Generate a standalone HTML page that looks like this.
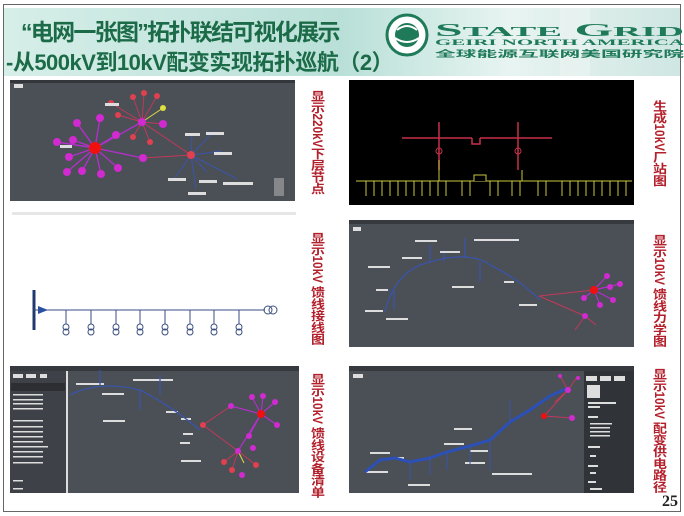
<!DOCTYPE html>
<html><head><meta charset="utf-8"><style>
html,body{margin:0;width:684px;height:516px;overflow:hidden}
body{background:#fff;font-family:"Liberation Sans","Noto Sans CJK SC",sans-serif;position:relative}
.v{position:absolute;height:160px;writing-mode:vertical-rl;text-orientation:mixed;color:#b3202c;font-weight:bold;font-size:14px;line-height:15px;transform:scaleY(0.84);transform-origin:top left;white-space:nowrap;font-family:"Liberation Sans","Noto Sans CJK SC",sans-serif}
.t{position:absolute;color:#1c6b48;font-weight:bold;white-space:nowrap;font-family:"Liberation Sans","Noto Sans CJK SC",sans-serif}
</style></head><body>
<svg width="684" height="516" style="position:absolute;left:0;top:0">
<defs>
<linearGradient id="hg" x1="0" x2="1" y1="0" y2="0">
<stop offset="0" stop-color="#d6eee8"/><stop offset="0.5" stop-color="#b9e0d8"/><stop offset="0.75" stop-color="#e8f4f1"/><stop offset="1" stop-color="#cfe6e2"/></linearGradient>
</defs>
<rect x="3.5" y="4.5" width="677" height="507" fill="#fff" stroke="#666" stroke-width="1"/>
<rect x="4" y="8" width="676" height="68" fill="url(#hg)"/>
<rect x="560" y="8" width="30" height="68" fill="#e9f3f1" opacity="0.7"/>
<circle cx="407" cy="35" r="20" fill="#fff" stroke="#1e7a58" stroke-width="3"/>
<circle cx="407" cy="35" r="12" fill="#1e7a58"/>
<path d="M397 30 Q407 22 417 30 M395 38 Q407 46 419 38" stroke="#fff" stroke-width="2" fill="none"/>
<text x="435" y="36" font-family="Liberation Serif" font-weight="bold" font-size="18" fill="#1e7a58" textLength="249" lengthAdjust="spacingAndGlyphs">S<tspan font-size="14">TATE</tspan> G<tspan font-size="14">RID</tspan></text>
<text x="435" y="45" font-family="Liberation Serif" font-weight="bold" font-size="8" fill="#1e7a58" textLength="249" lengthAdjust="spacingAndGlyphs">GEIRI NORTH AMERICA</text>
<text x="435" y="57" font-family="Liberation Sans,Noto Sans CJK SC,sans-serif" font-weight="bold" font-size="9" fill="#1e7a58" textLength="249" lengthAdjust="spacingAndGlyphs">全球能源互联网美国研究院</text>

<rect x="10" y="80" width="285" height="121" fill="#4b4f56"/>
<rect x="10" y="80" width="285" height="3" fill="#33363b"/>
<rect x="14" y="84" width="9" height="4" fill="#ddd"/>
<g stroke="#c0395a" stroke-width="1">
<line x1="142" y1="122" x2="111" y2="103"/><line x1="142" y1="122" x2="133" y2="97"/><line x1="142" y1="122" x2="144" y2="93"/><line x1="142" y1="122" x2="157" y2="96"/><line x1="142" y1="122" x2="118" y2="115"/><line x1="142" y1="122" x2="191" y2="155"/><line x1="142" y1="122" x2="133" y2="137"/><line x1="142" y1="122" x2="150" y2="142"/><line x1="191" y1="155" x2="143" y2="158"/><line x1="142" y1="122" x2="163" y2="124"/>
</g>
<line x1="142" y1="122" x2="163" y2="108" stroke="#dede40"/>
<g stroke="#b030c8" stroke-width="1.4">
<line x1="95" y1="148" x2="77" y2="123"/><line x1="95" y1="148" x2="100" y2="118"/><line x1="95" y1="148" x2="142" y2="122"/><line x1="95" y1="148" x2="73" y2="140"/><line x1="95" y1="148" x2="57" y2="142"/><line x1="95" y1="148" x2="69" y2="157"/><line x1="95" y1="148" x2="67" y2="172"/><line x1="95" y1="148" x2="82" y2="171"/><line x1="95" y1="148" x2="101" y2="174"/><line x1="95" y1="148" x2="118" y2="168"/><line x1="95" y1="148" x2="143" y2="158"/><line x1="95" y1="148" x2="116" y2="135"/>
</g>
<g stroke="#3a55a8" stroke-width="1">
<line x1="191" y1="155" x2="192" y2="134"/><line x1="191" y1="155" x2="214" y2="131"/><line x1="191" y1="155" x2="222" y2="151"/><line x1="191" y1="155" x2="207" y2="172"/><line x1="191" y1="155" x2="237" y2="179"/><line x1="191" y1="155" x2="196" y2="189"/><line x1="191" y1="155" x2="175" y2="178"/>
</g>
<g fill="#d02ad0"><circle cx="77" cy="123" r="4"/><circle cx="100" cy="118" r="4"/><circle cx="73" cy="140" r="4"/><circle cx="57" cy="142" r="4"/><circle cx="69" cy="157" r="4"/><circle cx="67" cy="172" r="4"/><circle cx="82" cy="171" r="4"/><circle cx="101" cy="174" r="4"/><circle cx="118" cy="168" r="4"/><circle cx="143" cy="158" r="4"/><circle cx="116" cy="135" r="4"/><circle cx="142" cy="122" r="4"/><circle cx="163" cy="124" r="4"/></g>
<g fill="#e04050"><circle cx="111" cy="103" r="3"/><circle cx="133" cy="97" r="3"/><circle cx="144" cy="93" r="3"/><circle cx="157" cy="96" r="3"/><circle cx="118" cy="115" r="3"/><circle cx="133" cy="137" r="3"/><circle cx="150" cy="142" r="3"/><circle cx="191" cy="155" r="4"/></g>
<circle cx="95" cy="148" r="6" fill="#f01010"/><circle cx="163" cy="108" r="3" fill="#dede40"/>
<g fill="#ddd"><rect x="105" y="103" width="14" height="3"/><rect x="60" y="145" width="12" height="3"/><rect x="185" y="133" width="15" height="3"/><rect x="206" y="132" width="18" height="3"/><rect x="214" y="152" width="18" height="3"/><rect x="168" y="178" width="18" height="3"/><rect x="199" y="180" width="18" height="3"/><rect x="223" y="182" width="30" height="3"/><rect x="188" y="192" width="18" height="3"/><rect x="274" y="178" width="10" height="18" opacity="0.4"/></g>

<rect x="12" y="212" width="284" height="3" fill="#e6e6e6"/>
<line x1="34" y1="290" x2="34" y2="330" stroke="#203a70" stroke-width="3"/>
<line x1="34" y1="310" x2="265" y2="310" stroke="#3a4e80" stroke-width="1"/>
<path d="M38 306 L48 310 L38 314 Z" fill="#2a4ea0"/>
<circle cx="268" cy="310" r="4" fill="none" stroke="#3a4e80"/><circle cx="273" cy="310" r="4" fill="none" stroke="#3a4e80"/>
<g stroke="#3a4e80" fill="none">
<path d="M66 310V324M91 310V324M116 310V324M140 310V324M165 310V324M190 310V324M214 310V324M239 310V324"/>
<circle cx="66" cy="327" r="3"/><circle cx="66" cy="332" r="3"/><circle cx="91" cy="327" r="3"/><circle cx="91" cy="332" r="3"/><circle cx="116" cy="327" r="3"/><circle cx="116" cy="332" r="3"/><circle cx="140" cy="327" r="3"/><circle cx="140" cy="332" r="3"/><circle cx="165" cy="327" r="3"/><circle cx="165" cy="332" r="3"/><circle cx="190" cy="327" r="3"/><circle cx="190" cy="332" r="3"/><circle cx="214" cy="327" r="3"/><circle cx="214" cy="332" r="3"/><circle cx="239" cy="327" r="3"/><circle cx="239" cy="332" r="3"/>
</g>

<rect x="349" y="80" width="285" height="125" fill="#000"/>
<g stroke="#c8304a" stroke-width="1.5"><line x1="402" y1="138" x2="472" y2="138"/><line x1="480" y1="138" x2="552" y2="138"/><line x1="439" y1="122" x2="439" y2="170"/><line x1="518" y1="122" x2="518" y2="170"/><path d="M472 138V144H480V138"/></g>
<circle cx="439" cy="151" r="3" fill="none" stroke="#c8304a"/><circle cx="518" cy="151" r="3" fill="none" stroke="#c8304a"/>
<g stroke="#c8c840" stroke-width="1"><line x1="356" y1="181" x2="632" y2="181"/><line x1="439" y1="160" x2="439" y2="181"/><line x1="522" y1="170" x2="522" y2="181"/><path d="M474 181V175H486V181"/>
<path d="M366 181v15M374 181v15M382 181v15M390 181v15M398 181v15M406 181v15M414 181v15M422 181v15M430 181v15M438 181v15M446 181v15M462 181v15M470 181v15M490 181v15M498 181v15M512 181v15M520 181v15M538 181v15M546 181v15M562 181v15M570 181v15M578 181v15M586 181v15M594 181v15M602 181v15M610 181v15M618 181v15M626 181v15"/></g>

<rect x="349" y="220" width="285" height="127" fill="#4b4f56"/>
<rect x="349" y="220" width="285" height="4" fill="#36393e"/>
<rect x="353" y="227" width="8" height="4" fill="#ddd"/>
<g stroke="#3a55a8" stroke-width="1.3" fill="none"><path d="M385 312 Q395 270 430 262 Q470 250 492 266 Q520 280 540 300"/><path d="M430 262V245M444 262V250M465 258V238M480 262V282M394 290V310M378 290H390"/></g>
<g stroke="#c0395a"><line x1="539" y1="296" x2="594" y2="290"/><line x1="539" y1="296" x2="585" y2="316"/><line x1="585" y1="316" x2="575" y2="330"/><line x1="585" y1="316" x2="596" y2="325"/></g>
<g stroke="#b030c8" stroke-width="1.2"><line x1="594" y1="290" x2="607" y2="276"/><line x1="594" y1="290" x2="620" y2="284"/><line x1="594" y1="290" x2="600" y2="305"/><line x1="594" y1="290" x2="584" y2="298"/><line x1="594" y1="290" x2="613" y2="300"/></g>
<g fill="#d02ad0"><circle cx="607" cy="276" r="3"/><circle cx="620" cy="284" r="3"/><circle cx="600" cy="305" r="3"/><circle cx="584" cy="298" r="3"/><circle cx="613" cy="300" r="3"/><circle cx="585" cy="316" r="3"/><circle cx="610" cy="287" r="3"/></g>
<circle cx="594" cy="290" r="4" fill="#f01010"/>
<g fill="#ddd"><rect x="415" y="240" width="22" height="2"/><rect x="474" y="239" width="45" height="2"/><rect x="440" y="251" width="20" height="2"/><rect x="402" y="257" width="20" height="2"/><rect x="368" y="266" width="22" height="2"/><rect x="376" y="289" width="12" height="2"/><rect x="452" y="286" width="22" height="2"/><rect x="504" y="281" width="10" height="2"/><rect x="519" y="304" width="18" height="2"/><rect x="365" y="310" width="18" height="2"/><rect x="386" y="318" width="22" height="2"/></g>

<rect x="10" y="366" width="289" height="127" fill="#4b4f56"/>
<rect x="10" y="366" width="289" height="5" fill="#36393e"/>
<rect x="10" y="371" width="56" height="122" fill="#3e4147"/>
<rect x="66" y="371" width="2" height="122" fill="#ddd"/>
<rect x="11" y="383" width="54" height="8" fill="#2c2e32"/>
<g fill="#ddd"><rect x="13" y="374" width="10" height="4"/><rect x="26" y="374" width="10" height="4"/><rect x="40" y="374" width="7" height="4"/>
<rect x="13" y="394" width="30" height="1.5"/><rect x="13" y="399" width="30" height="1.5"/><rect x="13" y="403" width="30" height="1.5"/><rect x="13" y="408" width="30" height="1.5"/><rect x="13" y="420" width="30" height="1.5"/><rect x="13" y="426" width="30" height="1.5"/><rect x="13" y="431" width="30" height="1.5"/><rect x="13" y="436" width="30" height="1.5"/><rect x="13" y="441" width="30" height="1.5"/><rect x="13" y="446" width="35" height="1.5"/><rect x="13" y="451" width="30" height="1.5"/><rect x="13" y="456" width="30" height="1.5"/><rect x="13" y="462" width="30" height="1.5"/><rect x="13" y="480" width="10" height="1.5"/><rect x="13" y="488" width="10" height="1.5"/>
<rect x="76" y="383" width="28" height="2"/><rect x="133" y="379" width="40" height="2"/><rect x="102" y="393" width="22" height="2"/><rect x="166" y="411" width="12" height="2"/><rect x="103" y="420" width="22" height="2"/><rect x="181" y="418" width="10" height="2"/><rect x="183" y="433" width="10" height="2"/><rect x="180" y="442" width="10" height="2"/><rect x="181" y="460" width="20" height="2"/></g>
<g stroke="#3a55a8" stroke-width="1.3" fill="none"><path d="M70 395 Q100 380 140 390 Q170 405 200 430"/><path d="M100 385V370M160 395V375M140 390V410"/></g>
<g stroke="#c0395a"><line x1="203" y1="425" x2="231" y2="406"/><line x1="203" y1="425" x2="238" y2="451"/><line x1="238" y1="451" x2="224" y2="462"/><line x1="238" y1="451" x2="232" y2="470"/><line x1="238" y1="451" x2="256" y2="465"/></g>
<line x1="238" y1="451" x2="244" y2="463" stroke="#dede40"/>
<g stroke="#b030c8" stroke-width="1.2"><line x1="261" y1="414" x2="231" y2="406"/><line x1="261" y1="414" x2="252" y2="397"/><line x1="261" y1="414" x2="263" y2="396"/><line x1="261" y1="414" x2="275" y2="402"/><line x1="261" y1="414" x2="277" y2="425"/><line x1="261" y1="414" x2="238" y2="451"/><line x1="261" y1="414" x2="249" y2="436"/></g>
<g fill="#d02ad0"><circle cx="231" cy="406" r="3"/><circle cx="252" cy="397" r="3"/><circle cx="263" cy="396" r="3"/><circle cx="275" cy="402" r="3"/><circle cx="277" cy="425" r="3"/><circle cx="249" cy="436" r="3"/><circle cx="238" cy="451" r="3"/><circle cx="253" cy="448" r="3"/><circle cx="242" cy="475" r="3"/></g>
<circle cx="261" cy="414" r="4" fill="#f01010"/>
<g fill="#e04050"><circle cx="224" cy="462" r="3"/><circle cx="232" cy="470" r="3"/><circle cx="256" cy="465" r="3"/><circle cx="203" cy="425" r="3"/></g>

<rect x="349" y="366" width="285" height="127" fill="#4b4f56"/>
<rect x="349" y="366" width="285" height="5" fill="#36393e"/>
<rect x="353" y="374" width="10" height="4" fill="#ddd"/>
<rect x="584" y="371" width="50" height="122" fill="#303338"/>
<g fill="#ddd"><rect x="586" y="376" width="11" height="5"/><rect x="600" y="376" width="11" height="5"/><rect x="614" y="376" width="11" height="5"/><rect x="587" y="385" width="13" height="13"/>
<rect x="588" y="402" width="28" height="2"/><rect x="588" y="406" width="12" height="2"/><rect x="588" y="416" width="10" height="2"/><rect x="590" y="423" width="22" height="1.5"/><rect x="590" y="427" width="20" height="1.5"/><rect x="590" y="431" width="20" height="1.5"/><rect x="590" y="435" width="20" height="1.5"/><rect x="588" y="446" width="12" height="2"/><rect x="590" y="455" width="6" height="2"/><rect x="588" y="465" width="10" height="2"/><rect x="590" y="472" width="6" height="2"/><rect x="588" y="481" width="8" height="2"/><rect x="590" y="488" width="12" height="2"/>
<rect x="366" y="471" width="22" height="2"/><rect x="370" y="452" width="20" height="2"/><rect x="392" y="457" width="12" height="2"/><rect x="444" y="443" width="20" height="2"/><rect x="454" y="428" width="18" height="2"/><rect x="465" y="462" width="20" height="2"/><rect x="492" y="473" width="40" height="2"/><rect x="470" y="450" width="18" height="2"/><rect x="408" y="484" width="22" height="2"/></g>
<path d="M365 472 L380 460 L395 458 L410 462 L430 458 L447 452 L470 446 L490 440 L510 422 L530 410 L550 396 L568 388" stroke="#2b50b8" stroke-width="3" fill="none"/>
<g stroke="#3a55a8" fill="none"><path d="M410 462V480M430 458V475M447 452V470M470 446V465M490 440V470M510 422V400"/></g>
<g stroke="#c0395a"><line x1="544" y1="416" x2="568" y2="390"/><line x1="544" y1="416" x2="572" y2="418"/><line x1="568" y1="390" x2="560" y2="376"/><line x1="568" y1="390" x2="578" y2="376"/><line x1="568" y1="390" x2="555" y2="402"/></g>
<g fill="#d02ad0"><circle cx="568" cy="390" r="3"/><circle cx="572" cy="418" r="3"/><circle cx="560" cy="376" r="2"/><circle cx="578" cy="378" r="2"/></g>
<circle cx="544" cy="416" r="3" fill="#f01010"/>
<text x="662" y="506" font-family="Liberation Serif" font-weight="bold" font-size="16" fill="#222">25</text>
</svg>
<div class="t" style="left:21px;top:13px;font-size:23px;letter-spacing:-1.7px">“电网一张图”拓扑联结可视化展示</div>
<div class="t" style="left:6px;top:45px;font-size:22px;letter-spacing:-0.5px">-从500kV到10kV配变实现拓扑巡航（2）</div>
<div class="v" style="left:310px;top:90px">显示220kV下层节点</div>
<div class="v" style="left:310px;top:232px">显示10kV 馈线接线图</div>
<div class="v" style="left:310px;top:373px">显示10kV 馈线设备清单</div>
<div class="v" style="left:652px;top:100px">生成10kV厂站图</div>
<div class="v" style="left:652px;top:234px">显示10kV 馈线力学图</div>
<div class="v" style="left:652px;top:368px">显示10kV 配变供电路径</div>
</body></html>
